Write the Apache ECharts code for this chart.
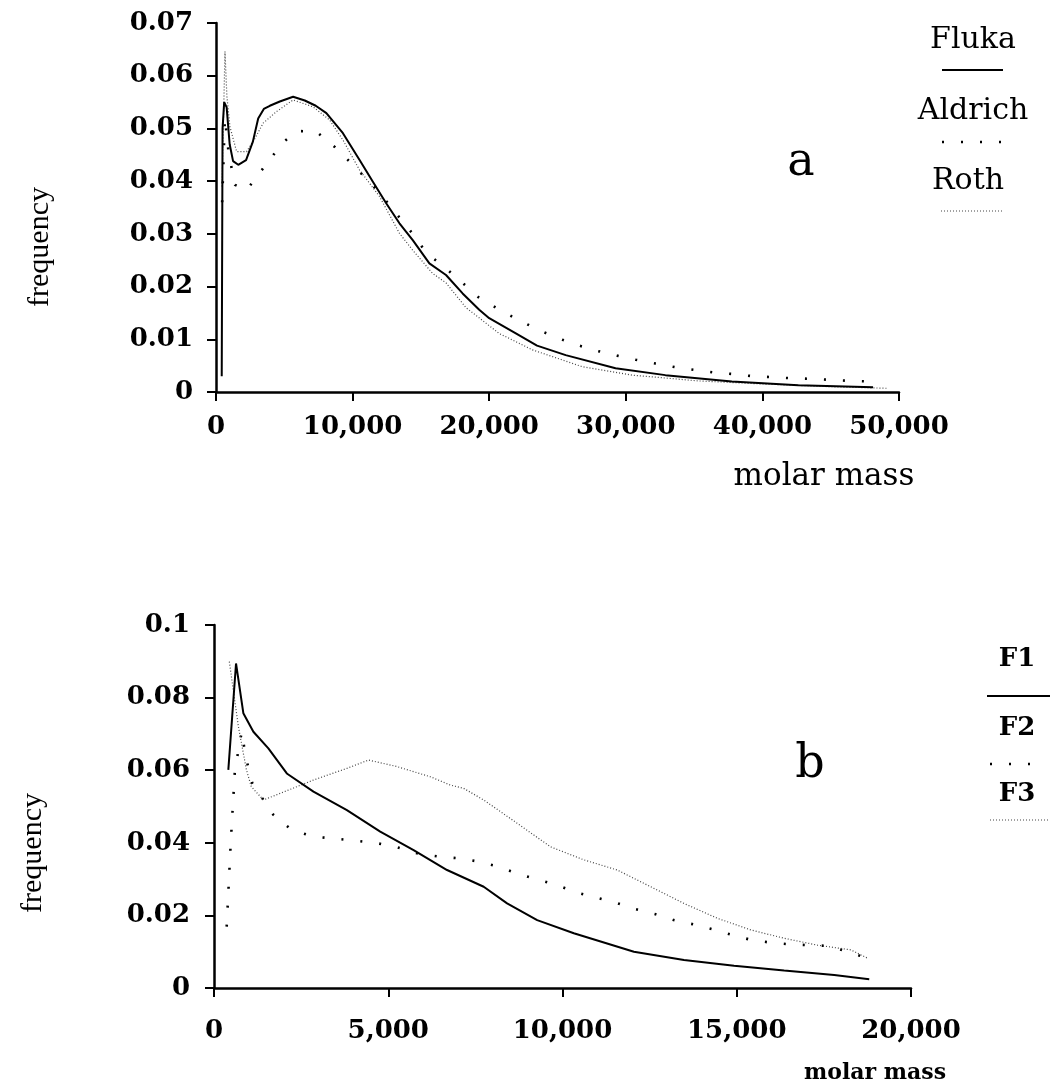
<!DOCTYPE html>
<html>
<head>
<meta charset="utf-8">
<script src="https://cdn.jsdelivr.net/npm/echarts@6/dist/echarts.min.js"></script>
<style>
html,body{margin:0;padding:0;background:#fff;}
#chart{width:1050px;height:1091px;}
</style>
</head>
<body>
<div id="chart"></div>
<script>
// ---------- Panel a ----------
const xTicksA = ['0', '10,000', '20,000', '30,000', '40,000', '50,000'];
const yTicksA = ['0', '0.01', '0.02', '0.03', '0.04', '0.05', '0.06', '0.07'];
const seriesNamesA = ['Fluka', 'Aldrich', 'Roth'];

const fluka = [[420,0.003],[480,0.050],[600,0.055],[780,0.054],[1000,0.047],[1250,0.0438],[1628,0.0431],
  [2200,0.0440],[2700,0.0475],[3088,0.0519],[3500,0.0537],[3942,0.0543],[4672,0.0551],[5645,0.0560],
  [6500,0.0553],[7300,0.0543],[8080,0.0529],[9292,0.0491],[10511,0.0440],[11484,0.0399],[12458,0.0358],
  [13430,0.0320],[14403,0.0288],[15620,0.0244],[16837,0.0222],[18054,0.0187],[19270,0.0156],[20000,0.0140],
  [21950,0.0111],[23500,0.0088],[25600,0.0070],[29250,0.0045],[32900,0.0032],[37760,0.0020],[42630,0.0013],[48100,0.0009]];

const aldrich = [[450,0.036],[650,0.052],[900,0.046],[1146,0.0424],[1387,0.0393],[2241,0.0383],[3139,0.0414],
  [3990,0.0442],[4792,0.0471],[5937,0.0495],[7348,0.0494],[8686,0.0465],[9781,0.0437],[10876,0.0408],
  [11970,0.0378],[13674,0.0323],[14600,0.0294],[15377,0.0264],[16715,0.0237],[18054,0.0207],[19200,0.0180],
  [20680,0.0157],[22120,0.0137],[23600,0.0118],[25040,0.0102],[26450,0.0089],[27900,0.0078],[29360,0.0069],
  [30750,0.0061],[32170,0.0054],[33630,0.0047],[35040,0.0042],[36420,0.0037],[37880,0.0034],[39290,0.0030],
  [40800,0.0028],[42210,0.0026],[43600,0.0025],[45060,0.0023],[46470,0.0021],[47930,0.0020]];

const roth = [[440,0.039],[657,0.0646],[800,0.056],[1022,0.0503],[1511,0.0456],[2241,0.0456],[2847,0.0481],
  [3453,0.0510],[4430,0.0532],[5645,0.0554],[7100,0.0541],[8321,0.0516],[9292,0.0478],[10511,0.0421],
  [11970,0.0371],[13430,0.0301],[14400,0.0269],[15860,0.0225],[16840,0.0207],[18300,0.0160],[19150,0.0143],
  [20730,0.0111],[23160,0.0080],[26810,0.0048],[30460,0.0032],[35330,0.0021],[40200,0.0015],[45060,0.0010],[49200,0.0007]];

// ---------- Panel b ----------
const xTicksB = ['0', '5,000', '10,000', '15,000', '20,000'];
const yTicksB = ['0', '0.02', '0.04', '0.06', '0.08', '0.1'];
const seriesNamesB = ['F1', 'F2', 'F3'];

const f1 = [[411,0.0601],[632,0.0894],[842,0.0757],[1130,0.0706],[1560,0.0660],[2089,0.0591],[2854,0.0541],
  [3813,0.0490],[4770,0.0431],[5727,0.0380],[6687,0.0325],[7739,0.0279],[8410,0.0233],[9273,0.0187],
  [10325,0.0151],[12049,0.0100],[13486,0.0077],[14923,0.0061],[16360,0.0048],[17796,0.0036],[18802,0.0024]];

const f2 = [[364,0.0169],[480,0.040],[600,0.060],[796,0.0706],[900,0.0642],[1000,0.0601],[1100,0.0564],
  [1704,0.0477],[2233,0.0435],[2853,0.0417],[3428,0.0412],[4052,0.0406],[4675,0.0399],[5250,0.0388],
  [5825,0.0371],[6446,0.0362],[7069,0.0357],[7595,0.0348],[8170,0.0334],[8744,0.0314],[9273,0.0299],
  [9828,0.0284],[10402,0.0263],[10968,0.0249],[11523,0.0235],[12098,0.0217],[12644,0.0204],[13199,0.0187],
  [13773,0.0175],[14302,0.0162],[14876,0.0146],[15431,0.0132],[15977,0.0125],[16552,0.0120],[17106,0.0118],
  [17652,0.0116],[18227,0.0098],[18755,0.0082]];

const f3 = [[440,0.0899],[700,0.0720],[930,0.0601],[1070,0.0555],[1417,0.0518],[1897,0.0536],[2853,0.0573],
  [3813,0.0605],[4434,0.0628],[5250,0.0610],[6207,0.0582],[6782,0.0559],[7164,0.0550],[7739,0.0518],
  [8697,0.0454],[9655,0.0389],[10612,0.0353],[11572,0.0325],[12529,0.0279],[13486,0.0233],[14445,0.0192],
  [15402,0.0160],[16360,0.0137],[17318,0.0118],[18276,0.0105],[18755,0.0082]];

// ---------- styling ----------
const tickFont = {fontFamily:'DejaVu Serif', fontWeight:'bold', fontSize:26, color:'#000'};
const lineStyles = [
  {color:'#000', width:2, type:'solid'},
  {color:'#000', width:2.6, type:[2,17]},
  {color:'#444', width:1.2, type:[1,2]}
];

function xAxisCfg(grid, max, interval, labels, margin){
  return {type:'value', gridIndex:grid, min:0, max:max, interval:interval,
    axisLine:{show:true, onZero:false, lineStyle:{color:'#000', width:2.5}},
    axisTick:{show:true, inside:false, length:9, lineStyle:{color:'#000', width:2}},
    axisLabel:Object.assign({margin:margin, showMinLabel:true, showMaxLabel:true,
      formatter:(v)=>labels[Math.round(v/interval)]}, tickFont),
    splitLine:{show:false}};
}
function yAxisCfg(grid, max, interval, labels, margin){
  return {type:'value', gridIndex:grid, min:0, max:max, interval:interval,
    axisLine:{show:true, onZero:false, lineStyle:{color:'#000', width:2.5}},
    axisTick:{show:true, inside:false, length:9, lineStyle:{color:'#000', width:2}},
    axisLabel:Object.assign({margin:margin, showMinLabel:true, showMaxLabel:true,
      formatter:(v)=>labels[Math.round(v/interval)]}, tickFont),
    splitLine:{show:false}};
}

function lineSeries(name, data, xi, yi, st){
  return {name:name, type:'line', xAxisIndex:xi, yAxisIndex:yi, data:data, showSymbol:false,
    symbol:'none', smooth:false, lineStyle:st, z:st.type==='solid'?3:2, animation:false};
}

function legendItem(cx, ty, text, ly, x1, x2, st, font){
  return [
    {type:'text', x:cx, y:ty, style:{text:text, fontFamily:'DejaVu Serif', fontSize:font.size, fontWeight:font.weight,
      fill:'#000', align:'center', verticalAlign:'middle'}},
    {type:'line', shape:{x1:x1, y1:ly, x2:x2, y2:ly},
      style:{stroke:st.color, lineWidth:st.width, lineDash:(st.type==='solid'?null:st.type)}}
  ];
}

const graphics = [].concat(
  // panel a titles
  [{type:'text', x:824, y:477, style:{text:'molar mass', fontFamily:'DejaVu Serif', fontSize:31, fill:'#000', align:'center', verticalAlign:'middle'}},
   {type:'text', x:40, y:247, rotation:Math.PI/2, style:{text:'frequency', fontFamily:'Liberation Serif', fontSize:30, fill:'#000', align:'center', verticalAlign:'middle'}},
   {type:'text', x:801, y:163, style:{text:'a', fontFamily:'DejaVu Serif', fontSize:46, fill:'#000', align:'center', verticalAlign:'middle'}}],
  legendItem(973, 40, seriesNamesA[0], 70, 942, 1003, lineStyles[0], {size:30, weight:'normal'}),
  legendItem(973, 111, seriesNamesA[1], 142, 942, 1004, lineStyles[1], {size:30, weight:'normal'}),
  legendItem(968, 181, seriesNamesA[2], 211, 941, 1004, lineStyles[2], {size:30, weight:'normal'}),
  // panel b titles
  [{type:'text', x:875, y:1073, style:{text:'molar mass', fontFamily:'DejaVu Serif', fontSize:22, fontWeight:'bold', fill:'#000', align:'center', verticalAlign:'middle'}},
   {type:'text', x:33, y:853, rotation:Math.PI/2, style:{text:'frequency', fontFamily:'Liberation Serif', fontSize:30, fill:'#000', align:'center', verticalAlign:'middle'}},
   {type:'text', x:810, y:765, style:{text:'b', fontFamily:'DejaVu Serif', fontSize:46, fill:'#000', align:'center', verticalAlign:'middle'}}],
  legendItem(1017, 659, seriesNamesB[0], 696, 987, 1050, lineStyles[0], {size:26, weight:'bold'}),
  legendItem(1017, 728, seriesNamesB[1], 764, 990, 1040, lineStyles[1], {size:26, weight:'bold'}),
  legendItem(1017, 794, seriesNamesB[2], 820, 990, 1050, lineStyles[2], {size:26, weight:'bold'})
);

const chart = echarts.init(document.getElementById('chart'), null, {renderer:'canvas'});
chart.setOption({
  backgroundColor:'#fff',
  animation:false,
  grid:[
    {left:216, top:23, width:683, height:369},
    {left:214, top:625, width:697, height:363}
  ],
  xAxis:[
    xAxisCfg(0, 50000, 10000, xTicksA, 22),
    xAxisCfg(1, 20000, 5000, xTicksB, 30)
  ],
  yAxis:[
    yAxisCfg(0, 0.07, 0.01, yTicksA, 23),
    yAxisCfg(1, 0.1, 0.02, yTicksB, 24)
  ],
  series:[
    lineSeries(seriesNamesA[0], fluka, 0, 0, lineStyles[0]),
    lineSeries(seriesNamesA[1], aldrich, 0, 0, lineStyles[1]),
    lineSeries(seriesNamesA[2], roth, 0, 0, lineStyles[2]),
    lineSeries(seriesNamesB[0], f1, 1, 1, lineStyles[0]),
    lineSeries(seriesNamesB[1], f2, 1, 1, lineStyles[1]),
    lineSeries(seriesNamesB[2], f3, 1, 1, lineStyles[2])
  ],
  graphic:graphics
});
</script>
</body>
</html>
